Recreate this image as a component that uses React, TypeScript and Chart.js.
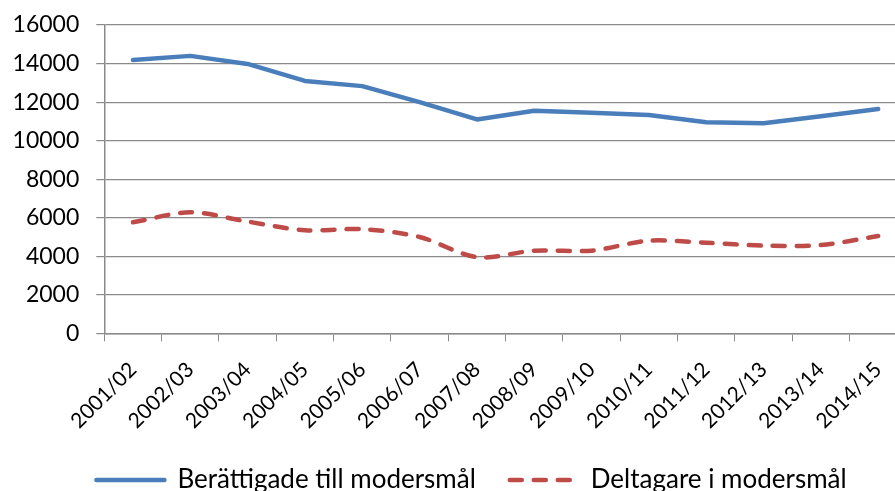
import React, { useEffect, useRef } from "react";
import { Chart, registerables } from "chart.js";

Chart.register(...registerables);

const categories = [
  "2001/02", "2002/03", "2003/04", "2004/05", "2005/06", "2006/07", "2007/08",
  "2008/09", "2009/10", "2010/11", "2011/12", "2012/13", "2013/14", "2014/15",
];
const berattigade = [14180, 14400, 13980, 13100, 12830, 12000, 11100, 11550, 11450, 11330, 10950, 10900, 11270, 11640];
const deltagare = [5760, 6280, 5800, 5350, 5410, 5000, 3950, 4290, 4290, 4810, 4700, 4550, 4580, 5050];
const seriesNames = ["Berättigade till modersmål", "Deltagare i modersmål"];
const yMin = 0;
const yMax = 16000;
const yStep = 2000;

const FONT = "Lato, 'Open Sans', sans-serif";
const GRID = "#8a8a8a";

const legendShift = {
  id: "legendShift",
  afterLayout(c: any) {
    if (c.legend) {
      c.legend.left += 15.5;
      c.legend.right += 15.5;
    }
  },
};

export default function App() {
  const ref = useRef<HTMLCanvasElement | null>(null);
  useEffect(() => {
    if (!ref.current) return;
    const chart: any = new Chart(ref.current, {
      type: "line",
      data: {
        labels: categories,
        datasets: [
          {
            label: seriesNames[0],
            data: berattigade,
            borderColor: "#4a7ebb",
            backgroundColor: "#4a7ebb",
            borderWidth: 4.5,
            borderCapStyle: "round",
            borderJoinStyle: "round",
            pointRadius: 0,
            tension: 0,
          },
          {
            label: seriesNames[1],
            data: deltagare,
            borderColor: "#be4b48",
            backgroundColor: "#be4b48",
            borderWidth: 4.5,
            borderDash: [12, 12],
            borderCapStyle: "round",
            borderJoinStyle: "round",
            pointRadius: 0,
            tension: 0.3,
          },
        ],
      },
      plugins: [legendShift],
      options: {
        responsive: false,
        animation: false,
        devicePixelRatio: 1,
        layout: { padding: { top: 0, left: 0, right: 0, bottom: 97 } },
        plugins: {
          tooltip: { enabled: false },
          legend: {
            position: "bottom",
            labels: {
              usePointStyle: true,
              pointStyle: "line",
              pointStyleWidth: 68,
              padding: 34,
              color: "#000",
              font: { family: FONT, size: 26 },
              generateLabels: (c: any) => {
                const items = Chart.defaults.plugins.legend.labels.generateLabels(c);
                return items.map((it: any) => {
                  const ds: any = c.data.datasets[it.datasetIndex];
                  return { ...it, lineDash: ds.borderDash || [], lineCap: "round", lineWidth: ds.borderWidth, strokeStyle: ds.borderColor };
                });
              },
            },
          },
        },
        scales: {
          x: {
            type: "category",
            offset: true,
            grid: { offset: true, drawOnChartArea: false, drawTicks: true, tickLength: 8, color: GRID, lineWidth: 1 },
            border: { display: true, color: GRID, width: 1.5 },
            ticks: {
              autoSkip: false,
              maxRotation: 45,
              minRotation: 45,
              padding: 16,
              color: "#000",
              font: { family: FONT, size: 21 },
            },
            afterFit: (s: any) => { s.height = 99.7; },
          },
          y: {
            min: yMin,
            max: yMax,
            grid: { color: GRID, lineWidth: 1.2, tickLength: 8 },
            border: { display: true, color: GRID, width: 1.5 },
            ticks: {
              stepSize: yStep,
              padding: 17,
              color: "#000",
              font: { family: FONT, size: 23, lineHeight: 0.7 },
              callback: (v: any) => String(v),
            },
            afterFit: (s: any) => { s.width = 104.3; },
          },
        },
      },
    });
    return () => chart.destroy();
  }, []);
  return (
    <div style={{ position: "fixed", left: 0, top: 0, width: 895, height: 491, overflow: "hidden", background: "#fff" }}>
      <canvas ref={ref} width={912} height={600} style={{ width: 912, height: 600, display: "block" }} />
    </div>
  );
}
